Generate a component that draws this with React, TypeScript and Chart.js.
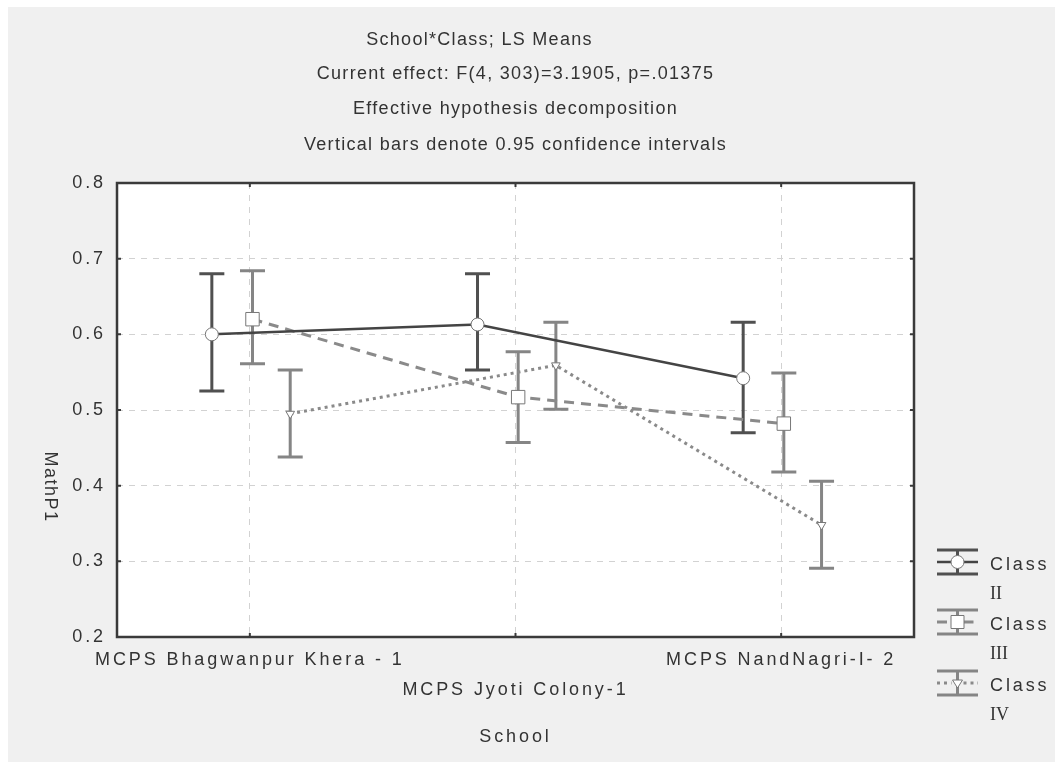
import React, { useEffect, useRef } from 'react';
import { Chart, registerables } from 'chart.js';

Chart.register(...registerables);

// ---------- data ----------
const schools = ['MCPS Bhagwanpur Khera - 1', 'MCPS Jyoti Colony-1', 'MCPS NandNagri-I- 2'];
const xTickLabels: (string | string[])[] = [schools[0], ['', schools[1]], schools[2]];

const classIIMean = [0.600, 0.613, 0.542];
const classIILow = [0.525, 0.553, 0.470];
const classIIHigh = [0.680, 0.680, 0.616];

const classIIIMean = [0.620, 0.517, 0.482];
const classIIILow = [0.561, 0.457, 0.418];
const classIIIHigh = [0.684, 0.577, 0.549];

const classIVMean = [0.495, 0.559, 0.348];
const classIVLow = [0.438, 0.501, 0.291];
const classIVHigh = [0.553, 0.616, 0.406];

const legendWords = ['Class', 'Class', 'Class'];
const legendNumerals = ['II', 'III', 'IV'];

const titleLines = [
  'School*Class; LS Means',
  'Current effect: F(4, 303)=3.1905, p=.01375',
  'Effective hypothesis decomposition',
  'Vertical bars denote 0.95 confidence intervals',
];
const xAxisTitle = 'School';
const yAxisTitle = 'MathP1';

// ---------- styles ----------
const seriesOffsets = [-0.143, 0.01, 0.152];
const SANS = "'Liberation Sans', Arial, Helvetica, sans-serif";
const SERIF = "'Liberation Serif', 'Times New Roman', serif";
const TEXT = '#333333';
const FS = 18;
const LS = '2.9px';

const seriesStyles = [
  { line: '#444444', bar: '#505050', dash: [] as number[], width: 2.5, point: 'circle', radius: 6.5, rotation: 0 },
  { line: '#8a8a8a', bar: '#858585', dash: [10, 7], width: 3, point: 'rect', radius: 9.5, rotation: 0 },
  { line: '#8a8a8a', bar: '#858585', dash: [3, 4], width: 3, point: 'triangle', radius: 5, rotation: 180 },
];

const seriesData = [
  { mean: classIIMean, low: classIILow, high: classIIHigh },
  { mean: classIIIMean, low: classIIILow, high: classIIIHigh },
  { mean: classIVMean, low: classIVLow, high: classIVHigh },
];

const decorPlugin = {
  id: 'decor',
  beforeUpdate(chart: any) {
    chart.ctx.letterSpacing = LS;
  },
  beforeDraw(chart: any) {
    const { ctx, chartArea: a } = chart;
    ctx.letterSpacing = LS;
    ctx.save();
    ctx.fillStyle = '#ffffff';
    ctx.fillRect(a.left, a.top, a.right - a.left, a.bottom - a.top);
    ctx.restore();
  },
  beforeDatasetsDraw(chart: any) {
    const { ctx } = chart;
    const xs = chart.scales.x;
    const ys = chart.scales.y;
    seriesData.forEach((s, i) => {
      ctx.save();
      ctx.strokeStyle = seriesStyles[i].bar;
      ctx.lineWidth = 3;
      ctx.setLineDash([]);
      s.low.forEach((lo, j) => {
        const x = xs.getPixelForValue(j + seriesOffsets[i]);
        const y1 = ys.getPixelForValue(lo);
        const y2 = ys.getPixelForValue(s.high[j]);
        ctx.beginPath();
        ctx.moveTo(x, y1);
        ctx.lineTo(x, y2);
        ctx.moveTo(x - 12.5, y1);
        ctx.lineTo(x + 12.5, y1);
        ctx.moveTo(x - 12.5, y2);
        ctx.lineTo(x + 12.5, y2);
        ctx.stroke();
      });
      ctx.restore();
    });
  },
  afterDraw(chart: any) {
    const { ctx, chartArea: a } = chart;
    const xs = chart.scales.x;
    const ys = chart.scales.y;
    ctx.save();
    // frame
    ctx.strokeStyle = '#3a3a3a';
    ctx.lineWidth = 2.5;
    ctx.setLineDash([]);
    ctx.strokeRect(a.left, a.top, a.right - a.left, a.bottom - a.top);
    ctx.lineWidth = 2;
    ctx.beginPath();
    ys.ticks.forEach((t: any) => {
      const y = ys.getPixelForValue(t.value);
      ctx.moveTo(a.left, y); ctx.lineTo(a.left + 4, y);
      ctx.moveTo(a.right, y); ctx.lineTo(a.right - 4, y);
    });
    xs.ticks.forEach((t: any) => {
      const x = xs.getPixelForValue(t.value);
      ctx.moveTo(x, a.bottom); ctx.lineTo(x, a.bottom - 4);
      ctx.moveTo(x, a.top); ctx.lineTo(x, a.top + 4);
    });
    ctx.stroke();

    // titles
    ctx.fillStyle = TEXT;
    ctx.font = `${FS}px ${SANS}`;
    ctx.textAlign = 'center';
    ctx.textBaseline = 'middle';
    ctx.letterSpacing = '1.3px';
    const cx = (a.left + a.right) / 2;
    const ty = [33, 67, 102, 138];
    titleLines.forEach((t, i) => {
      ctx.fillText(t, i === 0 ? cx - 36 : cx, ty[i]);
    });

    // x axis title
    ctx.letterSpacing = LS;
    ctx.fillText(xAxisTitle, cx, 730);

    // y axis title (reads top to bottom)
    ctx.save();
    ctx.letterSpacing = '1.5px';
    ctx.translate(42, 480);
    ctx.rotate(Math.PI / 2);
    ctx.fillText(yAxisTitle, 0, 0);
    ctx.restore();

    // legend
    const tops = [543, 603, 664];
    const lx0 = 929, lx1 = 970, lcx = 949.5;
    seriesStyles.forEach((st, i) => {
      const top = tops[i];
      const bot = top + 24;
      const mid = top + 12;
      ctx.save();
      ctx.setLineDash([]);
      ctx.strokeStyle = st.bar;
      ctx.lineWidth = 3;
      ctx.beginPath();
      ctx.moveTo(lx0, top); ctx.lineTo(lx1, top);
      ctx.moveTo(lx0, bot); ctx.lineTo(lx1, bot);
      ctx.moveTo(lcx, top); ctx.lineTo(lcx, bot);
      ctx.stroke();
      ctx.strokeStyle = st.line;
      ctx.lineWidth = st.width;
      ctx.setLineDash(st.dash);
      ctx.beginPath();
      ctx.moveTo(lx0, mid); ctx.lineTo(lcx - 6, mid);
      ctx.moveTo(lcx + 6, mid); ctx.lineTo(lx1, mid);
      ctx.stroke();
      ctx.setLineDash([]);
      ctx.fillStyle = '#ffffff';
      ctx.strokeStyle = '#777777';
      ctx.lineWidth = 1;
      ctx.beginPath();
      if (st.point === 'circle') {
        ctx.arc(lcx, mid, 6.5, 0, Math.PI * 2);
      } else if (st.point === 'rect') {
        ctx.rect(lcx - 6.5, mid - 6.5, 13, 13);
      } else {
        ctx.moveTo(lcx - 5, mid - 3);
        ctx.lineTo(lcx + 5, mid - 3);
        ctx.lineTo(lcx, mid + 5);
        ctx.closePath();
      }
      ctx.fill();
      ctx.stroke();
      ctx.restore();

      ctx.fillStyle = TEXT;
      ctx.textAlign = 'left';
      ctx.letterSpacing = LS;
      ctx.font = `${FS}px ${SANS}`;
      ctx.fillText(legendWords[i], 982, top + 15);
      ctx.letterSpacing = '0px';
      ctx.font = `18px ${SERIF}`;
      ctx.fillText(legendNumerals[i], 982, top + 44);
    });
    ctx.restore();
  },
};

export default function App() {
  const ref = useRef<HTMLCanvasElement>(null);

  useEffect(() => {
    if (!ref.current) return;
    const datasets = seriesData.map((s, i) => {
      const st = seriesStyles[i];
      return {
        label: `${legendWords[i]} ${legendNumerals[i]}`,
        data: s.mean.map((v, j) => ({ x: j + seriesOffsets[i], y: v })),
        borderColor: st.line,
        borderWidth: st.width,
        borderDash: st.dash,
        pointStyle: st.point,
        pointRadius: st.radius,
        pointRotation: st.rotation,
        pointBackgroundColor: '#ffffff',
        pointBorderColor: '#777777',
        pointBorderWidth: 1,
        pointHoverRadius: st.radius,
        tension: 0,
        fill: false,
      };
    });

    const chart = new Chart(ref.current, {
      type: 'line',
      data: { datasets } as any,
      plugins: [decorPlugin as any],
      options: {
        animation: false,
        responsive: false,
        devicePixelRatio: 1,
        layout: { padding: { top: 176, left: 0, right: 141, bottom: 55 } },
        font: { family: SANS, size: FS } as any,
        plugins: {
          legend: { display: false },
          title: { display: false },
          tooltip: { enabled: false },
        },
        scales: {
          x: {
            type: 'linear',
            min: -0.5,
            max: 2.5,
            bounds: 'data',
            afterBuildTicks: (scale: any) => {
              scale.ticks = schools.map((_, i) => ({ value: i }));
            },
            afterFit: (scale: any) => {
              scale.height = 70;
            },
            ticks: {
              autoSkip: false,
              minRotation: 0,
              maxRotation: 0,
              padding: 8,
              color: TEXT,
              font: { family: SANS, size: FS, lineHeight: 1.68 },
              callback: (value: any) => xTickLabels[Math.round(Number(value))] as any,
            },
            grid: { color: '#d2d2d2', lineWidth: 1, drawTicks: false },
            border: { display: false, dash: [6, 6] },
          },
          y: {
            min: 0.2,
            max: 0.8,
            afterFit: (scale: any) => {
              scale.width = 109;
            },
            ticks: {
              stepSize: 0.1,
              padding: 11,
              color: TEXT,
              font: { family: SANS, size: FS },
              callback: (value: any) => Number(value).toFixed(1),
            },
            grid: {
              drawTicks: false,
              lineWidth: 1,
              color: (c: any) => {
                const v = c.tick ? c.tick.value : 0;
                return Math.abs(v - 0.2) < 1e-6 || Math.abs(v - 0.8) < 1e-6 ? 'rgba(0,0,0,0)' : '#d2d2d2';
              },
            },
            border: { display: false, dash: [6, 6] },
          },
        },
      } as any,
    });
    return () => chart.destroy();
  }, []);

  return (
    <div style={{ position: 'fixed', left: 8, top: 7, width: 1047, height: 755, background: '#f0f0f0' }}>
      <canvas ref={ref} width={1047} height={755} style={{ display: 'block', width: 1047, height: 755 }} />
    </div>
  );
}
